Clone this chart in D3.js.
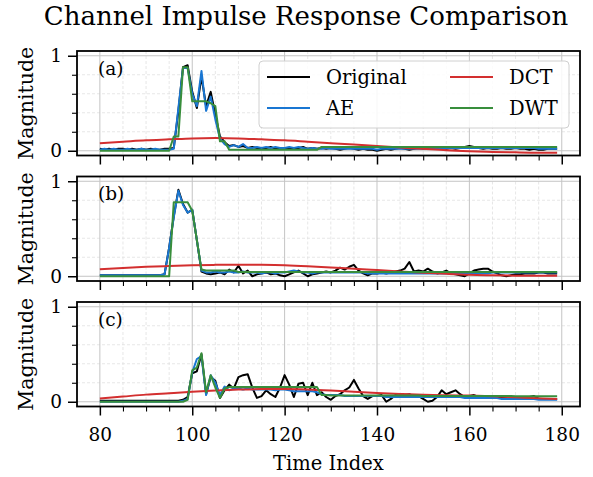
<!DOCTYPE html>
<html><head><meta charset="utf-8">
<script src="https://cdn.jsdelivr.net/npm/d3@7/dist/d3.min.js"></script>
<style>
body{margin:0;background:#fff}
svg{display:block}
text{font-family:"DejaVu Serif",serif;fill:#000}
</style>
</head><body>
<svg id="chart" width="593" height="477"></svg>
<script>
// ---------- data ----------
const timeIndex = d3.range(80, 180);
const dctTime = [80,85,90,95,100,105,110,115,120,125,130,135,140,145,150,155,160,165,170,175,179];
const xTicks = [80,100,120,140,160,180];
const yTicks = [0,1];
const panelLabels = ["(a)","(b)","(c)"];
const seriesNames = ["Original","AE","DCT","DWT"];
const seriesColors = ["#000000","#1976D2","#D32F2F","#388E3C"];

const originalA = [
0.02,0.01,0.02,0.01,0.02,0.02,0.01,0.02,0.01,0.02,
0.01,0.02,0.01,0.01,0.02,0.02,0.03,0.42,0.88,0.90,
0.62,0.45,0.78,0.47,0.62,0.38,0.15,0.09,0.05,0.06,
0.04,0.05,0.03,0.04,0.03,0.02,0.03,0.04,0.02,0.03,
0.02,0.03,0.02,0.03,0.04,0.02,0.03,0.02,0.03,0.02,
0.03,0.02,0.01,0.02,0.03,0.02,0.01,0.02,0.01,0.01,
0.00,0.01,0.02,0.01,0.02,0.03,0.02,0.01,0.02,0.03,
0.02,0.03,0.02,0.02,0.03,0.02,0.03,0.02,0.03,0.04,
0.05,0.04,0.03,0.02,0.03,0.02,0.02,0.03,0.02,0.02,
0.03,0.02,0.02,0.01,0.02,0.01,0.01,0.02,0.02,0.02];
const aeA = [
0.01,0.02,0.01,0.02,0.01,0.01,0.02,0.01,0.01,0.02,
0.01,0.01,0.02,0.01,0.01,0.01,0.02,0.45,0.87,0.87,
0.60,0.47,0.84,0.42,0.57,0.33,0.13,0.07,0.04,0.06,
0.04,0.07,0.03,0.03,0.04,0.03,0.04,0.03,0.04,0.03,
0.03,0.04,0.03,0.04,0.03,0.02,0.03,0.02,0.02,0.03,
0.02,0.02,0.02,0.02,0.02,0.02,0.02,0.02,0.02,0.02,
0.01,0.02,0.02,0.02,0.02,0.02,0.02,0.02,0.02,0.02,
0.02,0.02,0.02,0.02,0.03,0.03,0.03,0.03,0.03,0.03,
0.03,0.03,0.03,0.03,0.03,0.03,0.03,0.03,0.03,0.03,
0.03,0.03,0.03,0.03,0.03,0.02,0.02,0.02,0.02,0.02];
const dctA = [0.08,0.095,0.11,0.12,0.13,0.133,0.13,0.12,0.11,0.095,0.08,0.065,0.05,0.035,0.02,0.005,-0.005,-0.012,-0.017,-0.02,-0.02];
const dwtA = [
0,0,0,0,0,0,0,0,0,0,
0,0,0,0,0,0,0.15,0.15,0.88,0.88,
0.52,0.52,0.52,0.52,0.50,0.47,0.10,0.10,0.01,0.01,
0.01,0.01,0.01,0.01,0.01,0.01,0.01,0.01,0.01,0.01,
0.01,0.01,0.01,0.01,0.01,0.01,0.01,0.01,0.04,0.04,
0.04,0.04,0.04,0.04,0.04,0.04,0.04,0.04,0.04,0.04,
0.04,0.04,0.04,0.04,0.04,0.04,0.04,0.04,0.04,0.04,
0.04,0.04,0.04,0.04,0.04,0.04,0.04,0.04,0.04,0.04,
0.04,0.04,0.04,0.04,0.04,0.04,0.04,0.04,0.04,0.04,
0.04,0.04,0.04,0.04,0.04,0.04,0.04,0.04,0.04,0.04];

const originalB = [
0.01,0.01,0.01,0.01,0.01,0.01,0.01,0.01,0.01,0.01,
0.01,0.01,0.01,0.01,0.02,0.30,0.63,0.91,0.76,0.67,
0.70,0.38,0.05,0.03,0.02,0.03,0.04,0.02,0.07,0.04,
0.11,0.03,0.06,0.00,0.02,0.03,0.04,0.02,0.03,0.01,
0.00,0.02,0.04,0.06,0.03,0.00,0.02,0.03,0.04,0.05,
0.04,0.06,0.09,0.07,0.10,0.12,0.06,0.03,0.01,0.03,
0.03,0.04,0.03,0.04,0.05,0.06,0.08,0.15,0.05,0.06,
0.05,0.08,0.05,0.03,0.04,0.06,0.03,0.02,0.01,0.00,
0.03,0.06,0.07,0.08,0.08,0.05,0.03,0.01,0.00,0.01,
0.02,0.02,0.03,0.03,0.03,0.04,0.04,0.03,0.03,0.03];
const aeB = [
0.01,0.01,0.01,0.01,0.01,0.01,0.01,0.01,0.01,0.01,
0.01,0.01,0.01,0.01,0.02,0.30,0.62,0.90,0.75,0.67,
0.70,0.38,0.06,0.04,0.04,0.05,0.04,0.04,0.05,0.04,
0.04,0.05,0.04,0.04,0.04,0.03,0.04,0.04,0.03,0.04,
0.04,0.05,0.06,0.05,0.04,0.04,0.03,0.04,0.04,0.04,
0.04,0.04,0.04,0.04,0.04,0.04,0.04,0.04,0.03,0.03,
0.03,0.03,0.03,0.03,0.03,0.03,0.03,0.03,0.03,0.03,
0.03,0.03,0.03,0.03,0.03,0.03,0.03,0.03,0.03,0.03,
0.03,0.03,0.03,0.03,0.03,0.04,0.04,0.04,0.04,0.04,
0.04,0.04,0.04,0.04,0.04,0.04,0.04,0.04,0.04,0.04];
const dctB = [0.073,0.088,0.10,0.108,0.115,0.12,0.122,0.12,0.115,0.105,0.092,0.08,0.065,0.05,0.037,0.025,0.015,0.01,0.006,0.004,0.004];
const dwtB = [
0,0,0,0,0,0,0,0,0,0,
0,0,0,0,0,0,0.78,0.78,0.78,0.78,
0.69,0.38,0.07,0.06,0.06,0.06,0.06,0.06,0.06,0.06,
0.045,0.045,0.045,0.045,0.045,0.045,0.045,0.045,0.045,0.045,
0.045,0.045,0.045,0.045,0.045,0.045,0.045,0.045,0.045,0.045,
0.045,0.045,0.045,0.045,0.045,0.045,0.045,0.045,0.045,0.045,
0.045,0.045,0.045,0.045,0.045,0.045,0.045,0.045,0.045,0.045,
0.045,0.045,0.045,0.045,0.045,0.045,0.045,0.045,0.045,0.045,
0.045,0.045,0.045,0.045,0.045,0.045,0.045,0.045,0.045,0.045,
0.045,0.045,0.045,0.045,0.045,0.045,0.045,0.045,0.045,0.045];

const originalC = [
0.01,0.01,0.01,0.01,0.01,0.01,0.01,0.01,0.01,0.01,
0.01,0.01,0.01,0.01,0.01,0.01,0.01,0.01,0.02,0.05,
0.30,0.32,0.50,0.08,0.26,0.22,0.04,0.12,0.18,0.14,
0.26,0.28,0.29,0.15,0.04,0.06,0.12,0.08,0.05,0.15,
0.28,0.18,0.05,0.19,0.20,0.07,0.20,0.07,0.10,0.05,
0.02,0.06,0.08,0.12,0.15,0.23,0.14,0.06,0.03,0.06,
0.06,0.07,0.00,0.03,0.07,0.06,0.07,0.08,0.06,0.06,
0.03,0.00,0.01,0.05,0.12,0.08,0.10,0.12,0.08,0.05,
0.06,0.07,0.05,0.05,0.05,0.04,0.05,0.04,0.05,0.04,
0.05,0.04,0.05,0.05,0.06,0.03,0.03,0.03,0.03,0.03];
const aeC = [
0,0,0,0,0,0,0,0,0,0,
0,0,0,0,0,0,0,0,0.01,0.03,
0.31,0.45,0.48,0.07,0.28,0.20,0.07,0.16,0.12,0.14,
0.14,0.13,0.14,0.13,0.13,0.13,0.13,0.13,0.12,0.13,
0.13,0.12,0.11,0.11,0.11,0.11,0.11,0.10,0.08,0.07,
0.07,0.07,0.07,0.06,0.06,0.06,0.06,0.06,0.06,0.06,
0.06,0.06,0.05,0.05,0.05,0.05,0.05,0.05,0.05,0.05,
0.05,0.05,0.05,0.05,0.05,0.05,0.05,0.05,0.05,0.04,
0.04,0.04,0.04,0.04,0.04,0.04,0.04,0.03,0.03,0.03,
0.03,0.03,0.03,0.03,0.03,0.02,0.02,0.02,0.02,0.02];
const dctC = [0.035,0.055,0.075,0.09,0.105,0.118,0.128,0.133,0.133,0.128,0.118,0.105,0.092,0.082,0.074,0.069,0.065,0.057,0.047,0.037,0.03];
const dwtC = [
0,0,0,0,0,0,0,0,0,0,
0,0,0,0,0,0,0,0,0,0.02,
0.33,0.36,0.51,0.10,0.28,0.15,0.04,0.14,0.155,0.155,
0.155,0.155,0.155,0.155,0.155,0.155,0.155,0.155,0.155,0.155,
0.155,0.155,0.155,0.155,0.155,0.155,0.155,0.155,0.07,0.07,
0.065,0.065,0.065,0.065,0.065,0.065,0.065,0.065,0.065,0.065,
0.065,0.065,0.065,0.065,0.065,0.065,0.065,0.065,0.065,0.065,
0.06,0.06,0.06,0.06,0.06,0.06,0.06,0.06,0.06,0.06,
0.06,0.06,0.06,0.06,0.06,0.06,0.06,0.06,0.06,0.06,
0.058,0.058,0.058,0.058,0.058,0.058,0.058,0.058,0.058,0.058];

const panels = [
  {label: panelLabels[0], orig: originalA, ae: aeA, dct: dctA, dwt: dwtA},
  {label: panelLabels[1], orig: originalB, ae: aeB, dct: dctB, dwt: dwtB},
  {label: panelLabels[2], orig: originalC, ae: aeC, dct: dctC, dwt: dwtC}
];

// ---------- layout ----------
const svg = d3.select("#chart");
const W = 593, H = 477;
const L = 77, R = 580;
const top0 = 51, pStep = 125.5, pH = 104.5;

svg.append("rect").attr("width", W).attr("height", H).attr("fill", "#fff");

const x = d3.scaleLinear().domain([75.05, 183.95]).range([L, R]);

svg.append("text").attr("x", 306).attr("y", 25).attr("text-anchor", "middle")
  .style("font-size", "26px").text("Channel Impulse Response Comparison");

const minorX = d3.range(80, 181, 5).filter(v => v % 20 !== 0);
const minorY = [0.2, 0.4, 0.6, 0.8];

panels.forEach((p, i) => {
  const T = top0 + i * pStep, B = T + pH;
  const y = d3.scaleLinear().domain([-0.05, 1.05]).range([B, T]);
  const g = svg.append("g");
  const clipId = "clip" + i;
  svg.append("clipPath").attr("id", clipId).append("rect")
    .attr("x", L).attr("y", T).attr("width", R - L).attr("height", pH);

  // minor grid
  g.selectAll(".mgx").data(minorX).join("line")
    .attr("x1", d => x(d)).attr("x2", d => x(d)).attr("y1", T).attr("y2", B)
    .attr("stroke", "#dcdcdc").attr("stroke-width", 0.7).attr("stroke-dasharray", "3,2");
  g.selectAll(".mgy").data(minorY).join("line")
    .attr("x1", L).attr("x2", R).attr("y1", d => y(d)).attr("y2", d => y(d))
    .attr("stroke", "#dcdcdc").attr("stroke-width", 0.7).attr("stroke-dasharray", "3,2");
  // major grid
  g.selectAll(".Mgx").data(xTicks).join("line")
    .attr("x1", d => x(d)).attr("x2", d => x(d)).attr("y1", T).attr("y2", B)
    .attr("stroke", "#c4c4c4").attr("stroke-width", 1);
  g.selectAll(".Mgy").data(yTicks).join("line")
    .attr("x1", L).attr("x2", R).attr("y1", d => y(d)).attr("y2", d => y(d))
    .attr("stroke", "#c4c4c4").attr("stroke-width", 1);

  // lines
  const lg = g.append("g").attr("clip-path", `url(#${clipId})`);
  const lineFull = d3.line().x((d, k) => x(timeIndex[k])).y(d => y(d));
  const lineDct = d3.line().x((d, k) => x(dctTime[k])).y(d => y(d)).curve(d3.curveMonotoneX);
  const seriesData = [p.orig, p.ae, p.dct, p.dwt];
  seriesData.forEach((s, k) => {
    lg.append("path").datum(s)
      .attr("d", k === 2 ? lineDct : lineFull)
      .attr("fill", "none").attr("stroke", seriesColors[k])
      .attr("stroke-width", 2).attr("stroke-linejoin", "round");
  });

  // axes
  const xAxis = d3.axisBottom(x).tickValues(xTicks).tickSize(9).tickPadding(12)
    .tickFormat(i === 2 ? d3.format("d") : () => "");
  const xa = svg.append("g").attr("transform", `translate(0,${B})`).call(xAxis);
  const xm = svg.append("g").attr("transform", `translate(0,${B})`)
    .call(d3.axisBottom(x).tickValues(minorX).tickSize(5).tickFormat(() => ""));
  const ya = svg.append("g").attr("transform", `translate(${L},0)`)
    .call(d3.axisLeft(y).tickValues(yTicks).tickSize(9).tickPadding(6).tickFormat(d3.format("d")));
  const ym = svg.append("g").attr("transform", `translate(${L},0)`)
    .call(d3.axisLeft(y).tickValues(minorY).tickSize(5).tickFormat(() => ""));
  [xa, xm, ya, ym].forEach(a => {
    a.select(".domain").remove();
    a.selectAll(".tick line").attr("stroke", "#000").attr("stroke-width", 1.5);
    a.selectAll(".tick text").style("font-size", "18.5px").attr("font-family", "DejaVu Serif");
  });
  [xm, ym].forEach(a => a.selectAll(".tick line").attr("stroke-width", 1.1));

  // frame
  svg.append("rect").attr("x", L).attr("y", T).attr("width", R - L).attr("height", pH)
    .attr("fill", "none").attr("stroke", "#000").attr("stroke-width", 1.8);

  // panel label
  svg.append("text").attr("x", 98).attr("y", T + 23.5).style("font-size", "18.5px").text(p.label);

  // y label
  svg.append("text").attr("transform", `translate(33,${(T + B) / 2}) rotate(-90)`)
    .attr("text-anchor", "middle").style("font-size", "20.5px").text("Magnitude");

  if (i === 0) {
    const lgd = svg.append("g");
    lgd.append("rect").attr("x", 259).attr("y", 61).attr("width", 310).attr("height", 67)
      .attr("rx", 4).attr("fill", "#fff").attr("fill-opacity", 0.85)
      .attr("stroke", "#d0d0d0").attr("stroke-width", 1);
    const pos = [[267, 77], [267, 108], [450, 77], [450, 108]];
    seriesNames.forEach((n, k) => {
      const [px, py] = pos[k];
      lgd.append("line").attr("x1", px).attr("x2", px + 43).attr("y1", py).attr("y2", py)
        .attr("stroke", seriesColors[k]).attr("stroke-width", 2);
      lgd.append("text").attr("x", px + 59).attr("y", py).attr("dy", "0.35em")
        .style("font-size", "19.5px").text(n);
    });
  }
});

svg.append("text").attr("x", (L + R) / 2).attr("y", 470).attr("text-anchor", "middle")
  .style("font-size", "19.5px").text("Time Index");
</script>
</body></html>
